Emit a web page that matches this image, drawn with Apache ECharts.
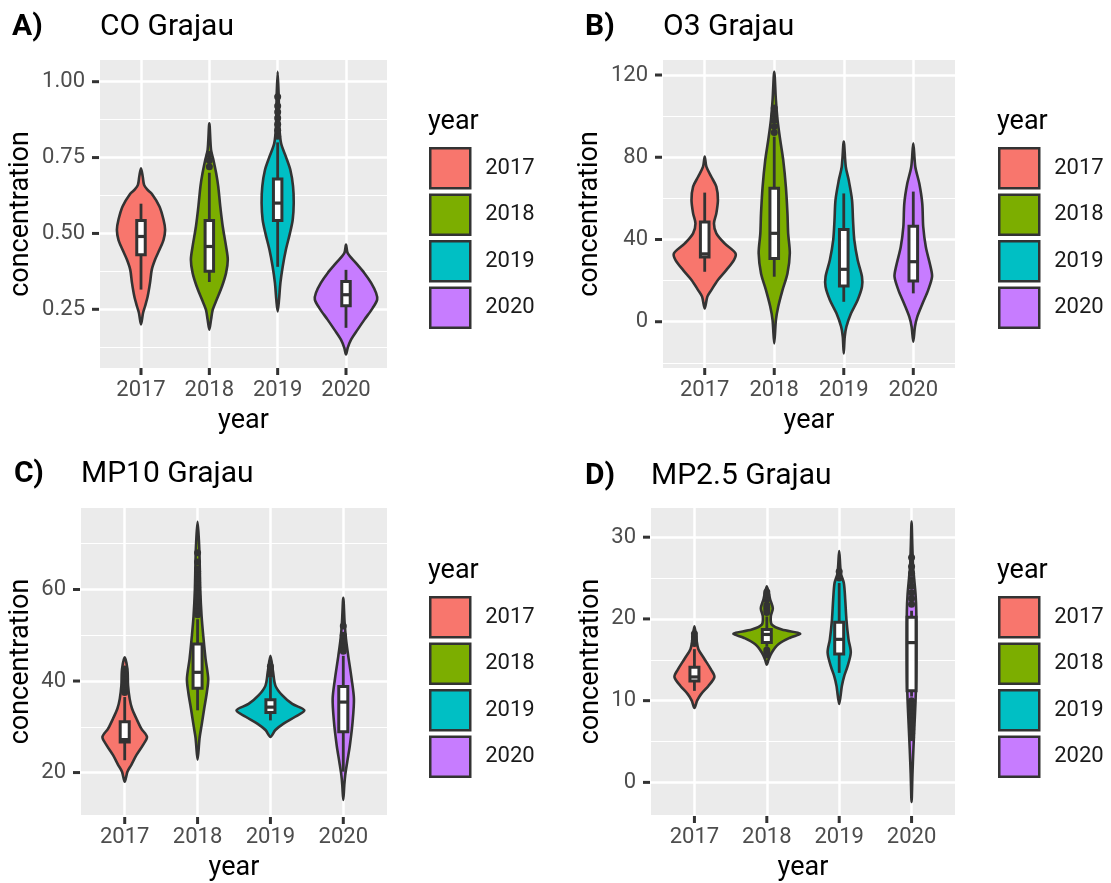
<!DOCTYPE html>
<html>
<head>
<meta charset="utf-8">
<title>Grajau violins</title>
<script src="https://cdn.jsdelivr.net/npm/echarts@6/dist/echarts.min.js"></script>
<style>
  html, body { margin: 0; padding: 0; background: #fff; }
  #chart { width: 1111px; height: 883px; }
</style>
</head>
<body>
<div id="chart"></div>
<script>
const years = ['2017', '2018', '2019', '2020'];
const yearColors = ['#F8766D', '#7CAE00', '#00BFC4', '#C77CFF'];

// violin profiles: [value, half width in category units], top to bottom
// boxes: [lower whisker, q1, median, q3, upper whisker]

// CO
const coTicks = [0.25, 0.5, 0.75, 1.0];
const coMinor = [0.125, 0.375, 0.625, 0.875];
const coViolins = [
  [[0.715,0],[0.688,0.025],[0.660,0.045],[0.645,0.09],[0.630,0.16],[0.589,0.27],[0.545,0.33],[0.512,0.353],[0.479,0.33],[0.446,0.27],[0.413,0.205],[0.380,0.157],[0.337,0.132],[0.293,0.098],[0.260,0.059],[0.238,0.03],[0.200,0]],
  [[0.863,0],[0.775,0.025],[0.742,0.06],[0.698,0.10],[0.655,0.13],[0.589,0.16],[0.523,0.196],[0.457,0.245],[0.413,0.27],[0.370,0.245],[0.326,0.186],[0.282,0.108],[0.249,0.05],[0.216,0.025],[0.183,0]],
  [[1.033,0],[0.951,0.015],[0.852,0.025],[0.797,0.05],[0.753,0.12],[0.709,0.186],[0.655,0.225],[0.600,0.235],[0.545,0.22],[0.501,0.18],[0.446,0.12],[0.391,0.074],[0.337,0.04],[0.282,0.02],[0.243,0]],
  [[0.463,0],[0.435,0.025],[0.402,0.147],[0.369,0.27],[0.337,0.368],[0.304,0.44],[0.282,0.456],[0.254,0.39],[0.216,0.27],[0.183,0.17],[0.150,0.074],[0.123,0.025],[0.101,0]]
];
const coBoxes = [[0.315,0.43,0.49,0.543,0.598],[0.34,0.375,0.457,0.543,0.70],[0.39,0.543,0.60,0.679,0.80],[0.189,0.262,0.298,0.342,0.38]];
const coOutliers = [[], [0.72,0.74,0.76], [0.82,0.84,0.86,0.88,0.90,0.92,0.95], []];

// O3
const o3Ticks = [0, 40, 80, 120];
const o3Minor = [-20, 20, 60, 100];
const o3Violins = [
  [[80.3,0],[75.4,0.024],[70.5,0.095],[65.7,0.167],[59.2,0.19],[52.7,0.167],[47.8,0.133],[43,0.167],[38.1,0.286],[33.3,0.443],[30,0.42],[25.1,0.31],[20.3,0.19],[15.4,0.095],[12.2,0.038],[6.5,0]],
  [[121.6,0],[107.8,0.024],[98.1,0.048],[88.4,0.086],[78.7,0.129],[65.7,0.167],[52.7,0.19],[43,0.2],[33.3,0.224],[23.5,0.19],[15.4,0.119],[7.3,0.057],[0.8,0.024],[-10.5,0]],
  [[87.6,0],[75.4,0.029],[68.9,0.071],[59.2,0.119],[49.5,0.133],[39.7,0.152],[30,0.2],[21.9,0.262],[17,0.262],[10.6,0.2],[4.1,0.105],[-2.4,0.038],[-7.3,0.014],[-15.4,0]],
  [[86.8,0],[75.4,0.029],[67.3,0.086],[57.6,0.129],[46.2,0.143],[36.5,0.18],[26.8,0.248],[21.9,0.27],[15.4,0.214],[8.9,0.133],[2.4,0.057],[-2.4,0.024],[-9.7,0]]
];
const o3Boxes = [[24.3,31.5,33,48.5,62.8],[21.9,30.8,43,64.9,90],[9.7,17.4,25.5,44.9,62.4],[13.8,19.8,29.2,46.5,63.3]];
const o3Outliers = [[], [92,95,98,101,104], [], []];

// MP10
const mp10Ticks = [20, 40, 60];
const mp10Minor = [30, 50, 70];
const mp10Violins = [
  [[45.2,0],[42.6,0.037],[39,0.046],[36.1,0.068],[34,0.10],[31.8,0.16],[29.6,0.228],[27.8,0.306],[26,0.25],[23.8,0.16],[21.7,0.091],[20.2,0.037],[18,0]],
  [[74.8,0],[70.8,0.018],[67.2,0.027],[60,0.037],[54.2,0.055],[49.2,0.082],[44.8,0.11],[40.5,0.146],[37.6,0.128],[34,0.091],[30.3,0.055],[27.5,0.027],[22.8,0]],
  [[45.5,0],[41.9,0.037],[39,0.068],[36.9,0.16],[35,0.30],[33.6,0.466],[32.2,0.34],[30.7,0.18],[29.3,0.068],[27.8,0]],
  [[58.2,0],[52.8,0.018],[49.2,0.037],[45.5,0.068],[40.5,0.114],[36.1,0.146],[31.1,0.128],[26,0.091],[22.4,0.055],[19.5,0.027],[17.3,0.014],[14,0]]
];
const mp10Boxes = [[22.7,26.7,27.2,31.1,36.5],[33.6,38.4,41.9,48.1,53.5],[31.4,33.1,34.3,35.9,40.8],[20.2,28.9,35.4,38.8,45.5]];
const mp10Outliers = [
  [37.5,38.2,38.8,39.3,39.8,40.3,41,41.8,42.6],
  [54.5,55.5,56.5,57.5,58.5,59.5,60.5,61.5,62.5,63.5,64,64.5,66,68],
  [41.5,42,42.6,43.2],
  [46.5,47.2,48,49,50,52]
];

// MP2.5
const mp25Ticks = [0, 10, 20, 30];
const mp25Minor = [5, 15, 25];
const mp25Violins = [
  [[19.1,0],[17.5,0.028],[16.3,0.055],[15.1,0.138],[13.8,0.23],[12.9,0.276],[11.8,0.193],[10.8,0.092],[10,0.037],[9.1,0]],
  [[24,0],[22.4,0.046],[21.3,0.083],[20.3,0.055],[19.3,0.069],[18.7,0.207],[18.2,0.46],[17.7,0.32],[16.9,0.16],[15.9,0.069],[15,0.023],[14.4,0]],
  [[28.3,0],[25.6,0.023],[24.4,0.064],[22.4,0.083],[19.9,0.10],[17.5,0.129],[15.9,0.16],[14.2,0.115],[13,0.069],[11.8,0.037],[9.6,0]],
  [[31.9,0],[29,0.01],[26.5,0.02],[25,0.035],[23,0.055],[21,0.065],[17,0.068],[13,0.065],[10,0.055],[7,0.04],[4,0.025],[1,0.012],[-2.4,0]]
];
const mp25Boxes = [[11.2,12.4,12.9,14.1,16.3],[16.6,17.1,18.1,18.7,20.3],[13.4,15.7,17.5,19.6,24.4],[10.5,11.2,17.1,20.2,21]];
const mp25Outliers = [
  [17,17.4,17.8,18.2],
  [20.8,21.1,21.4,21.7,22.4,22.7,23,23.3,15.6,15.9,16.2],
  [25,25.8],
  [21.8,22.5,23.2,24,24.8,25.6,26.4,27.5,10,9.5,9,8.5,8,7.5,7,6.5,6,5.5]
];

// layout of the four panels
const panels = [
  { letter: 'A)', title: 'CO Grajau', ticks: coTicks, minor: coMinor, violins: coViolins, boxes: coBoxes, outliers: coOutliers,
    digits: 2, yMin: 0.0566, yMax: 1.0715, grid: { left: 100, top: 60, width: 287, height: 308 },
    nameGap: 65, letterLeft: 12, titleTop: 12, legendLeft: 429, legendTop: 147 },
  { letter: 'B)', title: 'O3 Grajau', ticks: o3Ticks, minor: o3Minor, violins: o3Violins, boxes: o3Boxes, outliers: o3Outliers,
    digits: 0, yMin: -22.5, yMax: 127.3, grid: { left: 663, top: 60, width: 292, height: 308 },
    nameGap: 59, letterLeft: 585, titleTop: 12, legendLeft: 998, legendTop: 147 },
  { letter: 'C)', title: 'MP10 Grajau', ticks: mp10Ticks, minor: mp10Minor, violins: mp10Violins, boxes: mp10Boxes, outliers: mp10Outliers,
    digits: 0, yMin: 10.73, yMax: 77.8, grid: { left: 81, top: 508, width: 306, height: 309 },
    nameGap: 46, letterLeft: 14, titleTop: 459, legendLeft: 429, legendTop: 596 },
  { letter: 'D)', title: 'MP2.5 Grajau', ticks: mp25Ticks, minor: mp25Minor, violins: mp25Violins, boxes: mp25Boxes, outliers: mp25Outliers,
    digits: 0, yMin: -3.99, yMax: 33.57, grid: { left: 651, top: 508, width: 304, height: 308 },
    nameGap: 46, letterLeft: 585, titleTop: 461, legendLeft: 998, legendTop: 596 }
];

const dark = '#333333';
const boxHalf = 0.062;
const tickLen = 7;
const catPos = years.map((y, i) => i + 1);

function violinRenderer(profile) {
  return function (params, api) {
    const x = api.value(0);
    const pts = [];
    profile.forEach(([v, w]) => pts.push(api.coord([x + w, v])));
    for (let j = profile.length - 1; j >= 0; j--) {
      const [v, w] = profile[j];
      if (w > 0) pts.push(api.coord([x - w, v]));
    }
    return {
      type: 'polygon',
      shape: { points: pts, smooth: 0.3 },
      style: { fill: api.visual('color'), stroke: dark, lineWidth: 2.6 }
    };
  };
}

function renderBox(params, api) {
  const x = api.value(0);
  const lo = api.value(1), q1 = api.value(2), med = api.value(3), q3 = api.value(4), hi = api.value(5);
  const pLo = api.coord([x, lo]);
  const pHi = api.coord([x, hi]);
  const tl = api.coord([x - boxHalf, q3]);
  const br = api.coord([x + boxHalf, q1]);
  const m = api.coord([x, med]);
  const lineStyle = { stroke: dark, lineWidth: 2.8 };
  return {
    type: 'group',
    children: [
      { type: 'line', shape: { x1: pLo[0], y1: pLo[1], x2: pLo[0], y2: br[1] }, style: lineStyle },
      { type: 'line', shape: { x1: pHi[0], y1: pHi[1], x2: pHi[0], y2: tl[1] }, style: lineStyle },
      { type: 'rect', shape: { x: tl[0], y: tl[1], width: br[0] - tl[0], height: br[1] - tl[1] },
        style: { fill: '#ffffff', stroke: dark, lineWidth: 3 } },
      { type: 'line', shape: { x1: tl[0], y1: m[1], x2: br[0], y2: m[1] }, style: { stroke: dark, lineWidth: 3.2 } }
    ]
  };
}

const grids = [], xAxes = [], yAxes = [], series = [], titles = [], legends = [];
const font = 'Roboto';

panels.forEach((p, k) => {
  grids.push(Object.assign({ show: true, backgroundColor: '#EBEBEB', borderWidth: 0 }, p.grid));

  xAxes.push({
    type: 'value', gridIndex: k, min: 0.4, max: 4.6, position: 'bottom',
    axisLine: { show: false, onZero: false },
    axisTick: { show: false, customValues: catPos },
    axisLabel: { customValues: catPos, formatter: v => years[Math.round(v) - 1], fontSize: 22, color: '#4D4D4D', margin: 11, fontFamily: font },
    splitLine: { show: true, lineStyle: { color: '#ffffff', width: 2.5 } },
    name: 'year', nameLocation: 'middle', nameGap: 40,
    nameTextStyle: { fontSize: 27, color: '#000', fontFamily: font }
  });

  yAxes.push({
    type: 'value', gridIndex: k, min: p.yMin, max: p.yMax, position: 'left',
    axisLine: { show: false, onZero: false },
    axisTick: { show: false, customValues: p.ticks },
    axisLabel: { customValues: p.ticks, formatter: v => v.toFixed(p.digits), fontSize: 22, color: '#4D4D4D', margin: 15, fontFamily: font },
    splitLine: { show: true, lineStyle: { color: '#ffffff', width: 2.5 } },
    name: 'concentration', nameLocation: 'middle', nameRotate: 90, nameGap: p.nameGap,
    nameTextStyle: { fontSize: 27, color: '#000', fontFamily: font }
  });
  // minor grid lines
  yAxes.push({
    type: 'value', gridIndex: k, min: p.yMin, max: p.yMax, position: 'left',
    axisLine: { show: false, onZero: false },
    axisTick: { show: false, customValues: p.minor },
    axisLabel: { show: false, customValues: p.minor },
    splitLine: { show: true, lineStyle: { color: '#ffffff', width: 1.2 } }
  });

  years.forEach((yr, i) => {
    series.push({
      type: 'custom', name: yr, xAxisIndex: k, yAxisIndex: 2 * k,
      itemStyle: { color: yearColors[i] },
      data: [[catPos[i], p.boxes[i][2]]],
      encode: { x: 0, y: 1 },
      renderItem: violinRenderer(p.violins[i]),
      z: 2
    });
  });

  series.push({
    type: 'custom', name: 'box', xAxisIndex: k, yAxisIndex: 2 * k,
    data: p.boxes.map((b, i) => [catPos[i]].concat(b)),
    encode: { x: 0, y: [1, 2, 3, 4, 5] },
    renderItem: renderBox,
    z: 3
  });

  const pts = [];
  p.outliers.forEach((list, i) => list.forEach(v => pts.push([catPos[i], v])));
  series.push({
    type: 'scatter', name: 'outliers', xAxisIndex: k, yAxisIndex: 2 * k,
    data: pts, symbolSize: 7, itemStyle: { color: dark, opacity: 1 }, z: 4
  });

  titles.push({ text: p.letter, left: p.letterLeft, top: p.titleTop, padding: 0,
    textStyle: { fontSize: 30, fontWeight: 'bold', color: '#000', fontFamily: font } });
  titles.push({ text: p.title, left: p.grid.left, top: p.titleTop, padding: 0,
    textStyle: { fontSize: 30, fontWeight: 'normal', color: '#000', fontFamily: font } });
  titles.push({ text: 'year', left: p.legendLeft - 1, top: p.legendTop - 38, padding: 0,
    textStyle: { fontSize: 27, fontWeight: 'normal', color: '#000', fontFamily: font } });

  legends.push({
    data: years, orient: 'vertical', left: p.legendLeft, top: p.legendTop, padding: 0,
    icon: 'rect', itemWidth: 40, itemHeight: 40, itemGap: 4, selectedMode: false,
    itemStyle: { borderColor: dark, borderWidth: 2.5 },
    textStyle: { fontSize: 22, color: '#1A1A1A', fontFamily: font, padding: [0, 0, 0, 10] }
  });
});

const chart = echarts.init(document.getElementById('chart'));
chart.setOption({
  animation: false,
  backgroundColor: '#ffffff',
  textStyle: { fontFamily: font },
  title: titles,
  legend: legends,
  grid: grids,
  xAxis: xAxes,
  yAxis: yAxes,
  series: series
});

// axis ticks, placed through the axes' own scales
const tickLines = [];
try {
  panels.forEach((p, k) => {
    const bottom = p.grid.top + p.grid.height;
    catPos.forEach(v => {
      const x = chart.convertToPixel({ xAxisIndex: k }, v);
      tickLines.push({ type: 'rect', z: 100, shape: { x: x - 1.5, y: bottom, width: 3, height: tickLen }, style: { fill: dark } });
    });
    p.ticks.forEach(v => {
      const y = chart.convertToPixel({ yAxisIndex: 2 * k }, v);
      tickLines.push({ type: 'rect', z: 100, shape: { x: p.grid.left - tickLen - 1, y: y - 1.5, width: tickLen, height: 3 }, style: { fill: dark } });
    });
  });
  chart.setOption({ graphic: { elements: tickLines } });
} catch (e) {
  chart.setOption({ title: titles.concat([{ text: String(e), left: 10, bottom: 0, textStyle: { fontSize: 12, color: 'red' } }]) });
}
</script>
</body>
</html>
